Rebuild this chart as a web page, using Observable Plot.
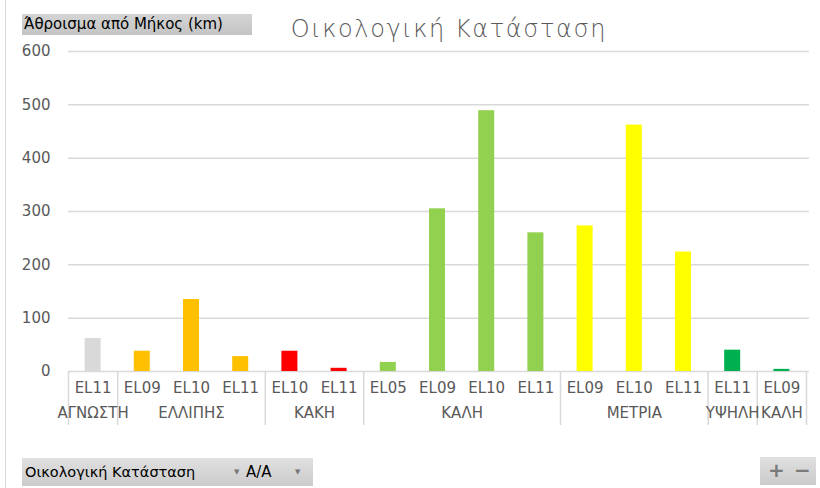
<!DOCTYPE html>
<html>
<head>
<meta charset="utf-8">
<script src="https://cdn.jsdelivr.net/npm/d3@7"></script>
<script src="https://cdn.jsdelivr.net/npm/@observablehq/plot@0.6"></script>
<style>
  html, body { margin: 0; padding: 0; background: #fff; }
  #wrap { position: relative; width: 820px; height: 488px; overflow: hidden; background: #fff; font-family: "DejaVu Sans", sans-serif; }
  #leftline { position: absolute; left: 5px; top: 0; width: 1px; height: 488px; background: #d9d9d9; }
  #fieldbtn { position: absolute; left: 22px; top: 14px; width: 230px; height: 21px; overflow: hidden; background: linear-gradient(#d4d4d4, #c4c4c4); }
  #fieldbtn span { position: absolute; left: 2px; top: 2px; font-size: 15px; line-height: 17px; color: #000; white-space: nowrap; }
  #title { position: absolute; left: 0; width: 898px; top: 14px; text-align: center; font-size: 24px; line-height: 30px; color: #595959; letter-spacing: 1.6px; font-weight: 300; white-space: nowrap; }
  #chart { position: absolute; left: 0; top: 40px; }
  #filterbtn { position: absolute; left: 22px; top: 458px; width: 291px; height: 28px; background: linear-gradient(#e0e0e0, #cbcbcb); font-size: 14.5px; line-height: 28px; color: #000; white-space: nowrap; }
  #filterbtn .a { position: absolute; left: 3px; }
  #filterbtn .d1 { position: absolute; left: 212px; font-size: 7px; color: #777; }
  #filterbtn .b { position: absolute; left: 224px; font-size: 15px; }
  #filterbtn .d2 { position: absolute; left: 273px; font-size: 7px; color: #777; }
  #zoombtn { position: absolute; left: 760px; top: 457px; width: 56px; height: 28px; background: linear-gradient(#e0e0e0, #cbcbcb); color: #7a7a7a; font-size: 20px; line-height: 27px; font-weight: bold; }
  #zoombtn .p { position: absolute; left: 8px; }
  #zoombtn .m { position: absolute; left: 34px; }
</style>
</head>
<body>
<div id="wrap">
  <div id="leftline"></div>
  <div id="fieldbtn"><span>Άθροισμα από Μήκος (km)</span></div>
  <div id="title">Οικολογική Κατάσταση</div>
  <div id="chart"></div>
  <div id="filterbtn"><span class="a">Οικολογική Κατάσταση</span><span class="d1">▼</span><span class="b">Α/Α</span><span class="d2">▼</span></div>
  <div id="zoombtn"><span class="p">+</span><span class="m">−</span></div>
</div>
<script>
// Outer categories (ecological status)
const groups = ["ΑΓΝΩΣΤΗ", "ΕΛΛΙΠΗΣ", "ΚΑΚΗ", "ΚΑΛΗ", "ΜΕΤΡΙΑ", "ΥΨΗΛΗ", "ΚΑΛΗ"];
const groupColors = ["#d9d9d9", "#ffc000", "#ff0000", "#92d050", "#ffff00", "#00b050", "#00b050"];
// Inner categories (river basin district codes) per group
const codes = [
  ["EL11"],
  ["EL09", "EL10", "EL11"],
  ["EL10", "EL11"],
  ["EL05", "EL09", "EL10", "EL11"],
  ["EL09", "EL10", "EL11"],
  ["EL11"],
  ["EL09"]
];
// Sum of length (km)
const values = [
  [62],
  [38, 135, 28],
  [38, 6],
  [17, 305, 489, 260],
  [273, 462, 224],
  [40],
  [4]
];
const yTicks = [0, 100, 200, 300, 400, 500, 600];

// Build tables
const bars = [];
const groupSpans = [];
let idx = 0;
groups.forEach((g, gi) => {
  const start = idx;
  codes[gi].forEach((c, ci) => {
    bars.push({i: idx, code: c, group: g, value: values[gi][ci], color: groupColors[gi]});
    idx++;
  });
  groupSpans.push({group: g, start, end: idx});
});
const boundaries = [0, ...groupSpans.map(s => s.end)];

const textColor = "#595959";
const gridColor = "#d9d9d9";

const chart = Plot.plot({
  width: 820,
  height: 400,
  marginTop: 11,
  marginBottom: 69,
  marginLeft: 68,
  marginRight: 14,
  style: {fontFamily: "DejaVu Sans, sans-serif", fontSize: "15px", color: textColor, background: "transparent", overflow: "visible"},
  x: {type: "linear", domain: [0, bars.length], axis: null},
  y: {domain: [0, 600], ticks: yTicks, axis: null},
  color: {type: "identity"},
  marks: [
    Plot.gridY(yTicks, {stroke: gridColor, strokeOpacity: 1, strokeWidth: 1.5, x1: 0, x2: bars.length, insetRight: -3}),
    Plot.axisY(yTicks, {tickSize: 0, tickPadding: 18, fontSize: 15, fill: textColor, label: null, tickFormat: d => String(d)}),
    Plot.rectY(bars, {x1: d => d.i, x2: d => d.i + 1, y: "value", fill: "color", insetLeft: 16.6, insetRight: 16.6}),
    Plot.ruleX(boundaries, {x: d => d, y1: d => 0, y2: d => 0, insetBottom: -54, stroke: gridColor, strokeWidth: 1.5}),
    Plot.text(bars, {x: d => d.i + 0.5, y: d => 0, text: "code", dy: 17, fill: textColor, fontSize: 15}),
    Plot.text(groupSpans, {x: d => (d.start + d.end) / 2, y: d => 0, text: "group", dy: 42, fill: textColor, fontSize: 15})
  ]
});
document.getElementById("chart").appendChild(chart);
</script>
</body>
</html>
